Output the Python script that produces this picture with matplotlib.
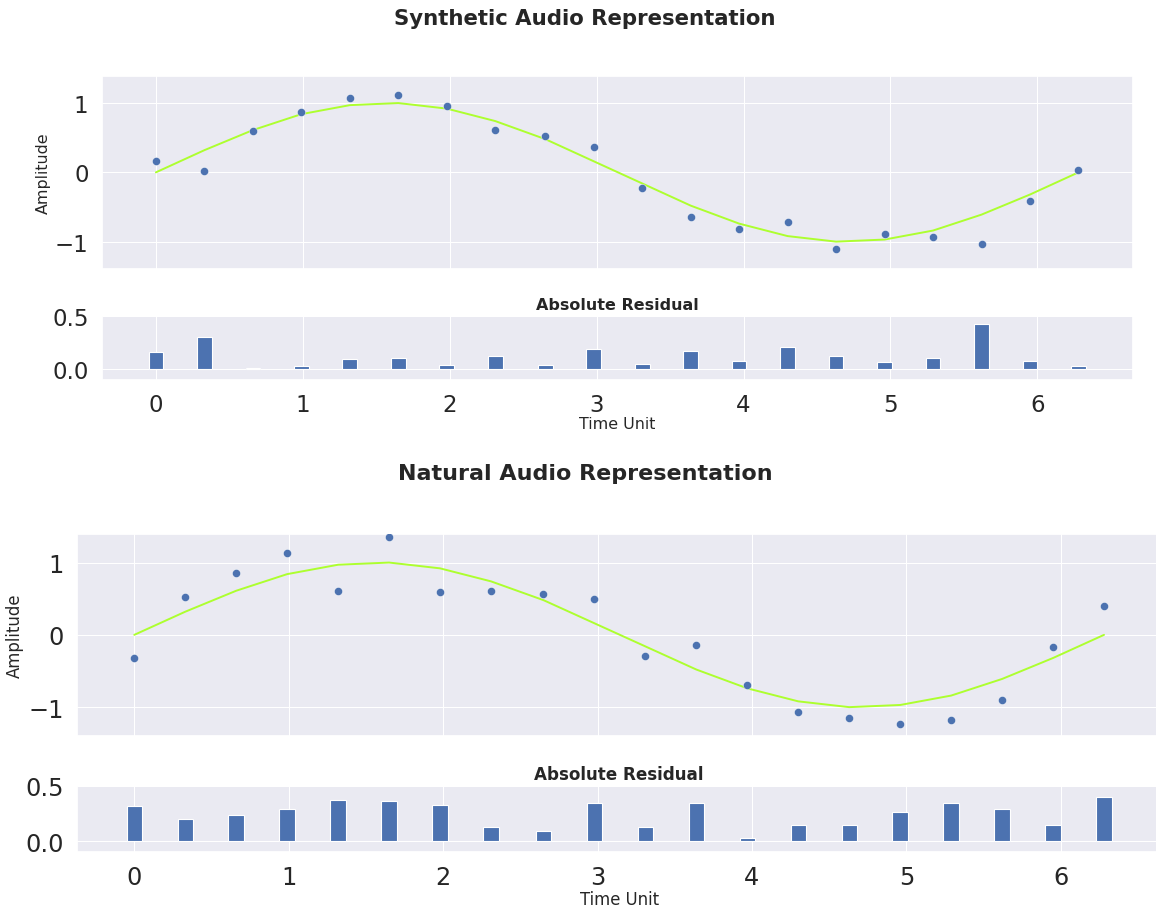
import matplotlib
matplotlib.use("Agg")
import matplotlib.pyplot as plt
import seaborn as sns

sns.set_theme(style="darkgrid")
plt.rcParams["grid.linewidth"] = 0.75

# time axis (20 samples over one period)
time_units = [0.00, 0.33, 0.66, 0.99, 1.32, 1.65, 1.98, 2.31, 2.65, 2.98,
              3.31, 3.64, 3.97, 4.30, 4.63, 4.96, 5.29, 5.62, 5.95, 6.28]

# reference waveform (green line)
reference_wave = [0.00, 0.32, 0.61, 0.84, 0.97, 1.00, 0.92, 0.74, 0.48, 0.16,
                  -0.16, -0.48, -0.74, -0.92, -1.00, -0.97, -0.84, -0.61, -0.32, 0.00]

# synthetic samples
synthetic_amp = [0.16, 0.02, 0.60, 0.87, 1.07, 1.11, 0.96, 0.61, 0.52, 0.36,
                 -0.22, -0.65, -0.82, -0.71, -1.11, -0.89, -0.94, -1.04, -0.41, 0.04]
synthetic_res = [0.16, 0.30, 0.01, 0.03, 0.10, 0.11, 0.04, 0.12, 0.04, 0.19,
                 0.05, 0.17, 0.08, 0.21, 0.12, 0.07, 0.11, 0.43, 0.08, 0.03]

# natural samples
natural_amp = [-0.32, 0.52, 0.86, 1.13, 0.60, 1.36, 0.59, 0.61, 0.57, 0.50,
               -0.29, -0.14, -0.70, -1.07, -1.15, -1.23, -1.18, -0.90, -0.17, 0.40]
natural_res = [0.32, 0.20, 0.24, 0.29, 0.37, 0.36, 0.33, 0.13, 0.09, 0.34,
               0.13, 0.34, 0.03, 0.15, 0.15, 0.26, 0.34, 0.29, 0.15, 0.40]

W, H = 1156, 912
fig = plt.figure(figsize=(W / 100, H / 100), dpi=100)


def box(left, top, right, bottom):
    # pixel box -> figure fraction
    return [left / W, 1 - bottom / H, (right - left) / W, (bottom - top) / H]


def draw_section(title, amp, res, main_box, res_box, title_y, scale):
    ax = fig.add_axes(box(*main_box))
    axr = fig.add_axes(box(*res_box), sharex=ax)

    ax.plot(time_units, reference_wave, color="#ADFF2F", lw=1.4, zorder=2)
    ax.scatter(time_units, amp, color="#4C72B0", s=34, edgecolor="white",
               linewidth=0.3, zorder=3)
    ax.set_ylim(-1.395, 1.395)
    ax.set_yticks([-1, 0, 1])
    ax.tick_params(labelbottom=False, labelsize=16.5 * scale)
    ax.set_ylabel("Amplitude", fontsize=11.4 * scale)
    ax.yaxis.set_label_coords(-0.0495, 0.5)

    axr.bar(time_units, res, width=0.1, color="#4C72B0", edgecolor="white",
            linewidth=0.8)
    axr.set_ylim(-0.1, 0.5)
    axr.set_yticks([0.0, 0.5])
    axr.set_xticks(range(7))
    axr.tick_params(labelsize=16.5 * scale)
    axr.set_title("Absolute Residual", fontsize=11.5 * scale,
                  fontweight="bold", pad=5)
    axr.set_xlabel("Time Unit", fontsize=11.4 * scale)
    axr.xaxis.set_label_coords(0.5, -0.57)

    fig.text(585 / W, 1 - title_y / H, title, ha="center", va="center",
             fontsize=15.3 * scale, fontweight="bold", color="#262626")


draw_section("Synthetic Audio Representation", synthetic_amp, synthetic_res,
             (101.7, 76.7, 1132.7, 270.0), (101.7, 317.3, 1132.7, 380.7), 19, 1.0)
draw_section("Natural Audio Representation", natural_amp, natural_res,
             (77.3, 535.0, 1161.0, 736.7), (77.3, 786.7, 1161.0, 853.3), 474, 1.047)

fig.savefig("out.png", dpi=100)
